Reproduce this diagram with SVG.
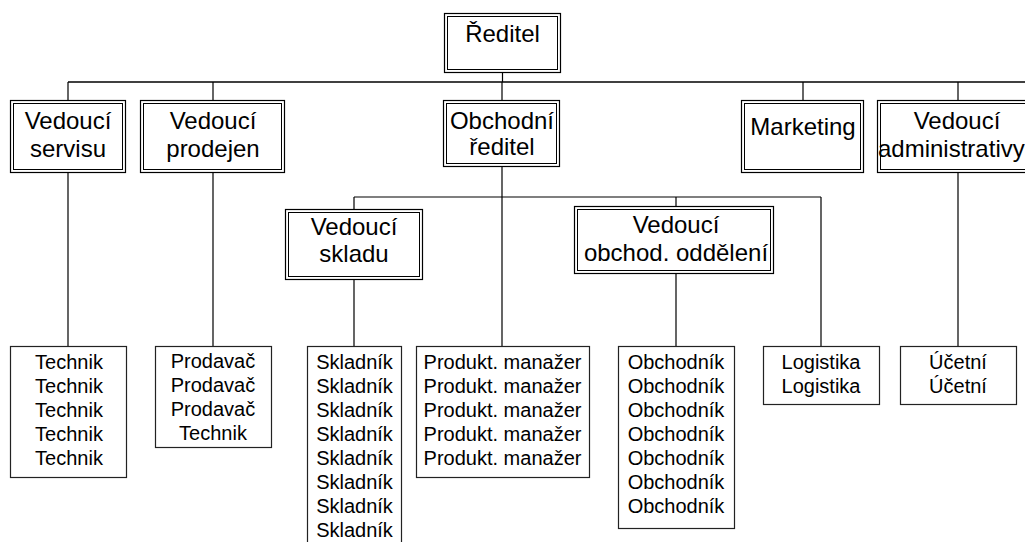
<svg xmlns="http://www.w3.org/2000/svg" width="1025" height="542" viewBox="0 0 1025 542">
<style>
.o{fill:#fff;stroke:#000;stroke-width:1.2}
.i{fill:none;stroke:#000;stroke-width:1}
.b{fill:#fff;stroke:#222;stroke-width:1.2}
.c{fill:none;stroke:#000;stroke-width:1.2}
.t{font-family:"Liberation Sans",Arial,sans-serif;font-size:24px;fill:#000;text-anchor:middle}
.s{font-family:"Liberation Sans",Arial,sans-serif;font-size:20px;fill:#000;text-anchor:middle}
</style>
<rect width="1025" height="542" fill="#fff"/>
<g id="connectors">
<path class="c" d="M502.5 72V82" />
<path d="M68 82H1025" fill="none" stroke="#000" stroke-width="1.6"/>
<path class="c" d="M68 82V100M213 82V100M502 82V101M803 82V100M958 82V100"/>
<path class="c" d="M502 167V346M354 197H821M354 197V209M676 197V206M821 197V346"/>
<path class="c" d="M68 173V346M213 173V346M354 279V346M676 273V346M958 173V346"/>
</g>
<g id="reditel">
<rect class="o" x="444.5" y="13.5" width="116" height="59"/>
<rect class="i" x="447.5" y="16.5" width="110" height="53"/>
<text class="t" x="502.5" y="42">Ředitel</text>
</g>
<g id="vedouci-servisu">
<rect class="o" x="10.5" y="100.5" width="115" height="72"/>
<rect class="i" x="13.5" y="103.5" width="109" height="66"/>
<text class="t" x="68" y="129">Vedoucí</text>
<text class="t" x="68" y="157">servisu</text>
</g>
<g id="vedouci-prodejen">
<rect class="o" x="140.5" y="100.5" width="144" height="72"/>
<rect class="i" x="143.5" y="103.5" width="138" height="66"/>
<text class="t" x="213" y="129">Vedoucí</text>
<text class="t" x="213" y="157">prodejen</text>
</g>
<g id="obchodni-reditel">
<rect class="o" x="443.5" y="100.5" width="116" height="66"/>
<rect class="i" x="446.5" y="103.5" width="110" height="60"/>
<text class="t" x="502" y="129">Obchodní</text>
<text class="t" x="502" y="155">ředitel</text>
</g>
<g id="marketing">
<rect class="o" x="741.5" y="100.5" width="122" height="72"/>
<rect class="i" x="744.5" y="103.5" width="116" height="66"/>
<text class="t" x="803" y="135">Marketing</text>
</g>
<g id="vedouci-administrativy">
<rect class="o" x="877.5" y="100.5" width="162" height="72"/>
<rect class="i" x="880.5" y="103.5" width="156" height="66"/>
<text class="t" x="957" y="129">Vedoucí</text>
<text class="t" x="878" y="157" style="text-anchor:start">administrativy</text>
</g>
<g id="vedouci-skladu">
<rect class="o" x="285.5" y="209.5" width="137" height="70"/>
<rect class="i" x="288.5" y="212.5" width="131" height="64"/>
<text class="t" x="354" y="235">Vedoucí</text>
<text class="t" x="354" y="262">skladu</text>
</g>
<g id="vedouci-obchod-oddeleni">
<rect class="o" x="574.5" y="206.5" width="199" height="67"/>
<rect class="i" x="577.5" y="209.5" width="193" height="61"/>
<text class="t" x="676" y="233">Vedoucí</text>
<text class="t" x="676" y="261">obchod. oddělení</text>
</g>
<g id="technici">
<rect class="b" x="10.5" y="346.5" width="116" height="131"/>
<text class="s" x="69" y="369">Technik</text>
<text class="s" x="69" y="393">Technik</text>
<text class="s" x="69" y="417">Technik</text>
<text class="s" x="69" y="441">Technik</text>
<text class="s" x="69" y="465">Technik</text>
</g>
<g id="prodavaci">
<rect class="b" x="155.5" y="346.5" width="116" height="101"/>
<text class="s" x="213" y="368">Prodavač</text>
<text class="s" x="213" y="392">Prodavač</text>
<text class="s" x="213" y="416">Prodavač</text>
<text class="s" x="213" y="440">Technik</text>
</g>
<g id="skladnici">
<rect class="b" x="307.5" y="346.5" width="94" height="214"/>
<text class="s" x="354.5" y="369">Skladník</text>
<text class="s" x="354.5" y="393">Skladník</text>
<text class="s" x="354.5" y="417">Skladník</text>
<text class="s" x="354.5" y="441">Skladník</text>
<text class="s" x="354.5" y="465">Skladník</text>
<text class="s" x="354.5" y="489">Skladník</text>
<text class="s" x="354.5" y="513">Skladník</text>
<text class="s" x="354.5" y="537">Skladník</text>
</g>
<g id="produkt-manazeri">
<rect class="b" x="416.5" y="346.5" width="173" height="131"/>
<text class="s" x="502.5" y="369">Produkt. manažer</text>
<text class="s" x="502.5" y="393">Produkt. manažer</text>
<text class="s" x="502.5" y="417">Produkt. manažer</text>
<text class="s" x="502.5" y="441">Produkt. manažer</text>
<text class="s" x="502.5" y="465">Produkt. manažer</text>
</g>
<g id="obchodnici">
<rect class="b" x="618.5" y="346.5" width="116" height="182"/>
<text class="s" x="676" y="369">Obchodník</text>
<text class="s" x="676" y="393">Obchodník</text>
<text class="s" x="676" y="417">Obchodník</text>
<text class="s" x="676" y="441">Obchodník</text>
<text class="s" x="676" y="465">Obchodník</text>
<text class="s" x="676" y="489">Obchodník</text>
<text class="s" x="676" y="513">Obchodník</text>
</g>
<g id="logistika">
<rect class="b" x="763.5" y="346.5" width="116" height="58"/>
<text class="s" x="821" y="369">Logistika</text>
<text class="s" x="821" y="393">Logistika</text>
</g>
<g id="ucetni">
<rect class="b" x="900.5" y="346.5" width="116" height="58"/>
<text class="s" x="958" y="369">Účetní</text>
<text class="s" x="958" y="393">Účetní</text>
</g>
</svg>
